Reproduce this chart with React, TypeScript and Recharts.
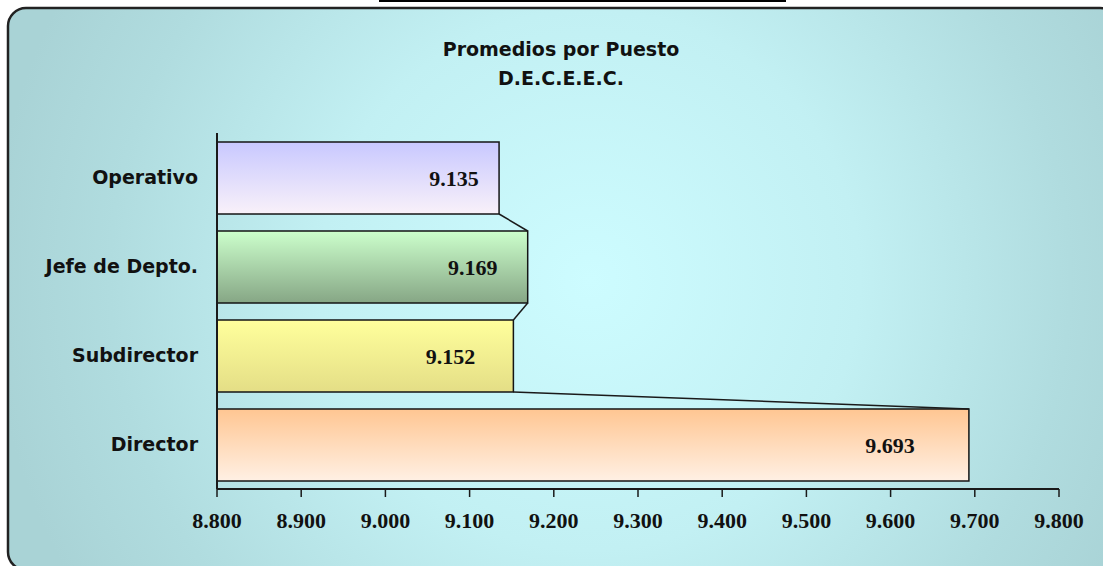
import React from 'react';
import { BarChart, Bar, XAxis, YAxis, LabelList } from 'recharts';

// ---- data ----
const categories = ['Operativo', 'Jefe de Depto.', 'Subdirector', 'Director'];
const promedios = [9.135, 9.169, 9.152, 9.693];
const xTicks = [8.8, 8.9, 9.0, 9.1, 9.2, 9.3, 9.4, 9.5, 9.6, 9.7, 9.8];
const xDomain = [8.8, 9.8];
const titleLines = ['Promedios por Puesto', 'D.E.C.E.E.C.'];

const data = categories.map((name, i) => ({ name, value: promedios[i] }));

// ---- styles ----
const W = 1103;
const H = 566;
const BAR_GRADIENTS: [string, string][] = [
  ['#c8c8ff', '#f9f1f9'],
  ['#ccffcc', '#86a685'],
  ['#ffff9c', '#e4de86'],
  ['#ffc692', '#fff0e4'],
];
const LABEL_INSETS = [45, 55, 63, 79];
const SANS = "'DejaVu Sans', Verdana, sans-serif";
const NUMFONT = "'Liberation Serif', 'Times New Roman', serif";

const geom: { x: number; y: number; w: number; h: number }[] = [];

function BarShape(props: any) {
  const { x, y, width, height, index } = props;
  geom[index] = { x, y, w: width, h: height };
  const lines: React.ReactNode[] = [];
  if (index === data.length - 1) {
    for (let i = 0; i < data.length - 1; i++) {
      const a = geom[i];
      const b = geom[i + 1];
      if (a && b) {
        lines.push(
          <line
            key={i}
            x1={a.x + a.w}
            y1={a.y + a.h}
            x2={b.x + b.w}
            y2={b.y}
            stroke="#1a1a1a"
            strokeWidth={1.5}
          />
        );
      }
    }
  }
  return (
    <g>
      <rect
        x={x}
        y={y}
        width={width}
        height={height}
        fill={`url(#barGrad${index})`}
        stroke="#151515"
        strokeWidth={1.5}
      />
      {lines}
    </g>
  );
}

function ValueLabel(props: any) {
  const vb = props.viewBox || {};
  const x = props.x ?? vb.x;
  const y = props.y ?? vb.y;
  const width = props.width ?? vb.width;
  const height = props.height ?? vb.height;
  const { value, index } = props;
  return (
    <text
      x={x + width - LABEL_INSETS[index]}
      y={y + height / 2 + 7.5}
      textAnchor="middle"
      fontFamily={NUMFONT}
      fontWeight="bold"
      fontSize={22}
      fill="#111"
    >
      {Number(value).toFixed(3)}
    </text>
  );
}

export default function App() {
  return (
    <div style={{ position: 'absolute', left: 0, top: 0, width: W, height: H, background: '#fff', overflow: 'hidden' }}>
      <svg width={W} height={H} style={{ position: 'absolute', left: 0, top: 0 }}>
        <defs>
          <radialGradient id="bgGrad" gradientUnits="userSpaceOnUse" cx={590} cy={280} r={600}>
            <stop offset="0" stopColor="#cdfcff" />
            <stop offset="0.45" stopColor="#c2f0f3" />
            <stop offset="0.8" stopColor="#b0dcdf" />
            <stop offset="1" stopColor="#a9d3d6" />
          </radialGradient>
          {BAR_GRADIENTS.map((g, i) => (
            <linearGradient key={i} id={`barGrad${i}`} x1="0" y1="0" x2="0" y2="1">
              <stop offset="0" stopColor={g[0]} />
              <stop offset="1" stopColor={g[1]} />
            </linearGradient>
          ))}
        </defs>
        <rect x={379} y={0} width={407} height={2} fill="#000" />
        <rect x={8} y={8} width={1110} height={562} rx={18} ry={18} fill="url(#bgGrad)" stroke="#222" strokeWidth={2.5} />
        {titleLines.map((t, i) => (
          <text
            key={i}
            x={561}
            y={56 + i * 29}
            textAnchor="middle"
            fontFamily={SANS}
            fontWeight="bold"
            fontSize={19}
            fill="#111"
          >
            {t}
          </text>
        ))}
      </svg>
      <div style={{ position: 'absolute', left: 0, top: 0 }}>
        <BarChart
          width={W}
          height={H}
          data={data}
          layout="vertical"
          margin={{ top: 133, right: 44, bottom: 37, left: 0 }}
        >
          <XAxis
            type="number"
            domain={xDomain}
            ticks={xTicks}
            interval={0}
            allowDataOverflow
            tickFormatter={(v: number) => v.toFixed(3)}
            axisLine={{ stroke: '#1a1a1a', strokeWidth: 2 }}
            tickLine={{ stroke: '#1a1a1a', strokeWidth: 1.5 }}
            tickSize={8}
            tickMargin={15}
            height={40}
            tick={{ fontFamily: NUMFONT, fontWeight: 'bold', fontSize: 22, fill: '#111' }}
          />
          <YAxis
            type="category"
            dataKey="name"
            width={217}
            tickLine={false}
            tickSize={0}
            tickMargin={19}
            axisLine={{ stroke: '#1a1a1a', strokeWidth: 2 }}
            tick={{ fontFamily: SANS, fontWeight: 'bold', fontSize: 19, fill: '#111' }}
          />
          <Bar dataKey="value" barSize={72} isAnimationActive={false} shape={<BarShape />}>
            <LabelList dataKey="value" content={<ValueLabel />} />
          </Bar>
        </BarChart>
      </div>
    </div>
  );
}
